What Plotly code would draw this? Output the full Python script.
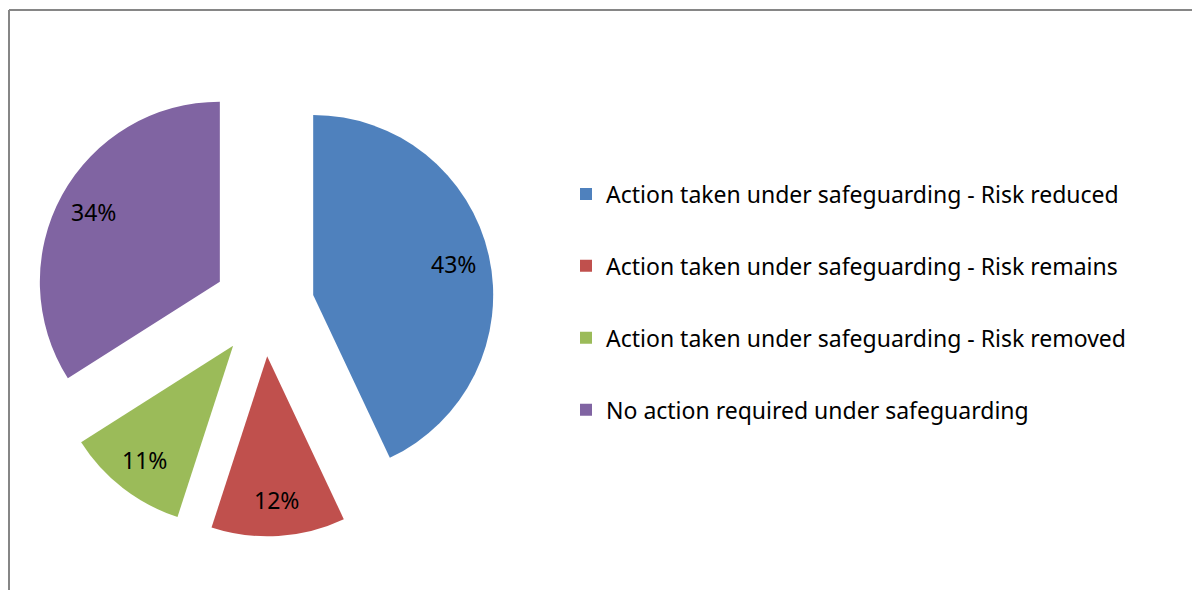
import math
import plotly.graph_objects as go

labels = [
    "Action taken under safeguarding - Risk reduced",
    "Action taken under safeguarding - Risk remains",
    "Action taken under safeguarding - Risk removed",
    "No action required under safeguarding",
]
values = [43, 12, 11, 34]
colors = ["#4F81BD", "#C0504D", "#9BBB59", "#8064A2"]

FONT = "Noto Sans"
W, H = 1200, 590

# pie geometry (pixels)
PIE_CX, PIE_CY = 256, 298
R = 180
PULL = 0.28
half = R * (1 + PULL)
dom_x = [(PIE_CX - half) / W, (PIE_CX + half) / W]
dom_y = [1 - (PIE_CY + half) / H, 1 - (PIE_CY - half) / H]

fig = go.Figure()
fig.add_trace(go.Pie(
    labels=labels,
    values=values,
    marker=dict(colors=colors, line=dict(width=0)),
    sort=False,
    direction="clockwise",
    rotation=0,
    pull=[PULL] * len(values),
    textinfo="none",
    domain=dict(x=dom_x, y=dom_y),
    showlegend=False,
))

# data labels placed towards the outer part of each slice (Excel style)
total = sum(values)
cum = 0
annotations = []
LABEL_FRAC = 0.8
for v in values:
    mid = (cum + v / 2) / total * 2 * math.pi
    cum += v
    dist = R * (PULL + LABEL_FRAC)
    px = PIE_CX + dist * math.sin(mid)
    py = PIE_CY - dist * math.cos(mid)
    annotations.append(dict(
        x=px / W, y=1 - py / H, xref="paper", yref="paper",
        text=f"{round(v / total * 100)}%", showarrow=False,
        font=dict(family=FONT, size=23, color="#000000"),
        xanchor="center", yanchor="middle",
    ))

# legend entries as square markers, one group each for even spacing
for i, (lab, col) in enumerate(zip(labels, colors)):
    fig.add_trace(go.Scatter(
        x=[None], y=[None], mode="markers",
        marker=dict(symbol="square", size=12, color=col),
        name=lab, legendgroup=f"g{i}", showlegend=True,
    ))

fig.update_layout(
    width=W, height=H,
    margin=dict(l=0, r=0, t=0, b=0),
    paper_bgcolor="white",
    plot_bgcolor="white",
    xaxis=dict(visible=False),
    yaxis=dict(visible=False),
    annotations=annotations,
    legend=dict(
        x=558 / W, xanchor="left",
        y=1 - 294 / H, yanchor="middle",
        font=dict(family=FONT, size=23, color="#000000"),
        tracegroupgap=39,
        bgcolor="rgba(0,0,0,0)",
    ),
    shapes=[
        dict(type="line", xref="paper", yref="paper",
             x0=1 / W, x1=1.01, y0=1 - 2 / H, y1=1 - 2 / H,
             line=dict(color="#868686", width=2)),
        dict(type="line", xref="paper", yref="paper",
             x0=1 / W, x1=1 / W, y0=1 - 2 / H, y1=-0.02,
             line=dict(color="#868686", width=2)),
    ],
)

fig.write_html("out.html")
